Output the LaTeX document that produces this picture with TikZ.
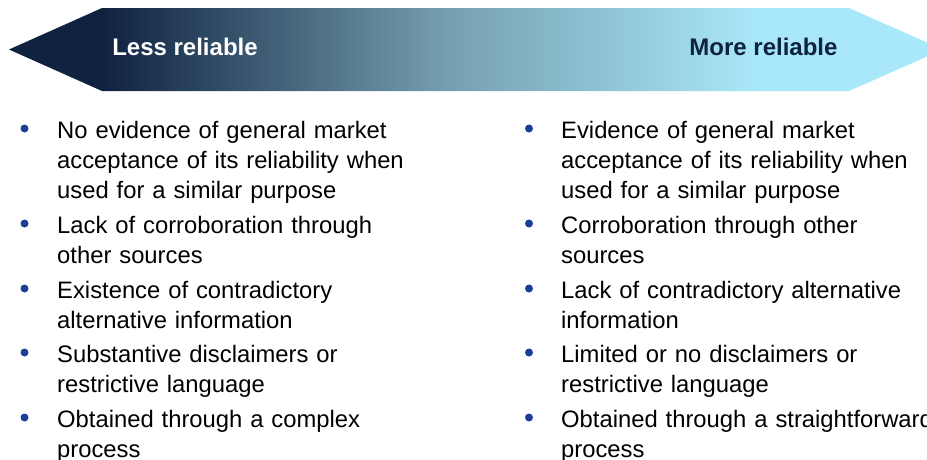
\documentclass[tikz,border=0pt]{standalone}
\usepackage{fontspec}
\setmainfont{Liberation Sans}
\usepackage{xcolor}
\usepackage{tikz}
\usetikzlibrary{positioning}
\definecolor{ScaleNavy}{HTML}{0F2240}
\definecolor{ScaleSlate}{HTML}{76A0B0}
\definecolor{ScaleCyan}{HTML}{A9E8FA}
\definecolor{BulletBlue}{HTML}{1C3D98}
\pgfdeclarehorizontalshading{ReliabilityShade}{100bp}{%
  color(0bp)=(ScaleNavy); color(30bp)=(ScaleNavy); color(48.6bp)=(ScaleSlate);
  color(65.2bp)=(ScaleCyan); color(100bp)=(ScaleCyan)}
\tikzset{
  headtext/.style={anchor=base,inner sep=0pt,font=\fontsize{24}{28}\selectfont\bfseries},
  itemtext/.style={anchor=base west,inner sep=0pt,text width=420pt,align=left,
    font=\fontsize{23.8}{30}\selectfont},
  bulletdot/.style={circle,fill=BulletBlue,inner sep=0pt,minimum size=8pt}
}

\begin{document}
\begin{tikzpicture}[x=1pt,y=-1pt]
  \useasboundingbox (0,0) rectangle (927,459);
  \clip (0,0) rectangle (927,459);

  % Scale arrow
  \shade[shading=ReliabilityShade]
    (9,49.5) -- (102,8) -- (849,8) -- (943,49.5) -- (849,91) -- (102,91) -- cycle;
  \node[headtext,text=white] (less) at (185,55) {Less reliable};
  \node[headtext,text=ScaleNavy] (more) at (763.5,55.5) {More reliable};

  % Less reliable column
  \node[bulletdot] (lb1) at (24.5,128.5) {};
  \node[itemtext] (l1) at (57,138) {No evidence of general market\\acceptance of its reliability when\\used for a similar purpose};
  \node[bulletdot] (lb2) at (24.5,223.5) {};
  \node[itemtext] (l2) at (57,233) {Lack of corroboration through\\other sources};
  \node[bulletdot] (lb3) at (24.5,288.5) {};
  \node[itemtext] (l3) at (57,298) {Existence of contradictory\\alternative information};
  \node[bulletdot] (lb4) at (24.5,352.5) {};
  \node[itemtext] (l4) at (57,362) {Substantive disclaimers or\\restrictive language};
  \node[bulletdot] (lb5) at (24.5,417.5) {};
  \node[itemtext] (l5) at (57,427) {Obtained through a complex\\process};

  % More reliable column
  \node[bulletdot] (mb1) at (529,128.5) {};
  \node[itemtext] (m1) at (561,138) {Evidence of general market\\acceptance of its reliability when\\used for a similar purpose};
  \node[bulletdot] (mb2) at (529,223.5) {};
  \node[itemtext] (m2) at (561,233) {Corroboration through other\\sources};
  \node[bulletdot] (mb3) at (529,288.5) {};
  \node[itemtext] (m3) at (561,298) {Lack of contradictory alternative\\information};
  \node[bulletdot] (mb4) at (529,352.5) {};
  \node[itemtext] (m4) at (561,362) {Limited or no disclaimers or\\restrictive language};
  \node[bulletdot] (mb5) at (529,417.5) {};
  \node[itemtext] (m5) at (561,427) {Obtained through a straightforward\\process};
\end{tikzpicture}
\end{document}
